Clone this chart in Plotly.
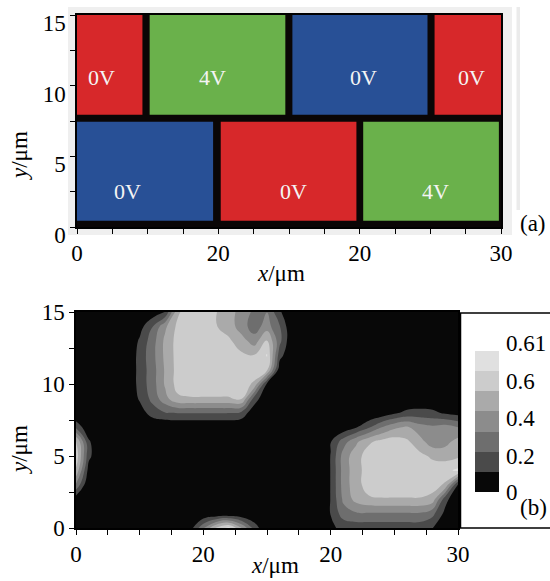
import plotly.graph_objects as go

# ---------------- data ----------------
# panel (a): electrode rectangles (x0, x1, y0, y1 in um) and their voltages
rect_x0 = [0, 5.14, 15.24, 25.3, 0, 10.17, 20.25]
rect_x1 = [4.63, 14.74, 24.8, 30, 9.63, 19.77, 29.85]
rect_y0 = [7.95, 7.95, 7.95, 7.95, 0.45, 0.45, 0.45]
rect_y1 = [15, 15, 15, 15, 7.45, 7.45, 7.45]
rect_kind = ["red", "green", "blue", "red", "blue", "red", "green"]
rect_label = ["0V", "4V", "0V", "0V", "0V", "0V", "4V"]
label_x = [1.7, 9.6, 20.3, 27.9, 3.6, 15.3, 25.4]
label_y = [10.6, 10.6, 10.6, 10.6, 2.5, 2.5, 2.5]

# panel (b): field values on a 1 um grid (rows: y = 0..15, cols: x = 0..30)
grid_x = list(range(31))
grid_y = list(range(16))
z_rows = [
    [0, 0, 0, 0, 0, 0, 0, 0, 0, 0.05, 0.25, 0.45, 0.55, 0.35, 0.14, 0, 0, 0, 0, 0, 0.07, 0.11, 0.12, 0.12, 0.12, 0.12, 0.12, 0.12, 0.09, 0, 0],
    [0, 0, 0, 0, 0, 0, 0, 0, 0, 0, 0, 0, 0, 0, 0, 0, 0, 0, 0, 0, 0.09, 0.22, 0.25, 0.25, 0.25, 0.25, 0.25, 0.25, 0.2, 0.06, 0],
    [0.03, 0, 0, 0, 0, 0, 0, 0, 0, 0, 0, 0, 0, 0, 0, 0, 0, 0, 0, 0, 0.09, 0.28, 0.38, 0.42, 0.43, 0.43, 0.43, 0.43, 0.4, 0.12, 0],
    [0.25, 0, 0, 0, 0, 0, 0, 0, 0, 0, 0, 0, 0, 0, 0, 0, 0, 0, 0, 0, 0.09, 0.3, 0.4, 0.48, 0.48, 0.48, 0.48, 0.48, 0.48, 0.42, 0.08],
    [0.42, 0.05, 0, 0, 0, 0, 0, 0, 0, 0, 0, 0, 0, 0, 0, 0, 0, 0, 0, 0, 0.09, 0.3, 0.4, 0.48, 0.48, 0.48, 0.48, 0.48, 0.48, 0.5, 0.54],
    [0.5, 0.11, 0, 0, 0, 0, 0, 0, 0, 0, 0, 0, 0, 0, 0, 0, 0, 0, 0, 0, 0.09, 0.3, 0.4, 0.48, 0.48, 0.48, 0.48, 0.46, 0.42, 0.4, 0.42],
    [0.45, 0.1, 0, 0, 0, 0, 0, 0, 0, 0, 0, 0, 0, 0, 0, 0, 0, 0, 0, 0, 0.08, 0.22, 0.33, 0.42, 0.46, 0.48, 0.45, 0.38, 0.3, 0.32, 0.38],
    [0.15, 0.02, 0, 0, 0, 0, 0, 0, 0, 0, 0, 0, 0, 0, 0, 0, 0, 0, 0, 0, 0, 0.02, 0.08, 0.16, 0.26, 0.33, 0.36, 0.3, 0.28, 0.3, 0.26],
    [0, 0, 0, 0, 0, 0.04, 0.13, 0.17, 0.18, 0.18, 0.18, 0.18, 0.18, 0.15, 0.02, 0, 0, 0, 0, 0, 0, 0, 0, 0, 0.02, 0.07, 0.11, 0.12, 0.11, 0.07, 0.05],
    [0, 0, 0, 0, 0, 0.1, 0.2, 0.32, 0.42, 0.43, 0.43, 0.43, 0.43, 0.45, 0.14, 0, 0, 0, 0, 0, 0, 0, 0, 0, 0, 0, 0, 0, 0, 0, 0],
    [0, 0, 0, 0, 0, 0.12, 0.22, 0.36, 0.47, 0.48, 0.48, 0.48, 0.48, 0.48, 0.42, 0.07, 0, 0, 0, 0, 0, 0, 0, 0, 0, 0, 0, 0, 0, 0, 0],
    [0, 0, 0, 0, 0, 0.12, 0.22, 0.36, 0.47, 0.48, 0.48, 0.48, 0.48, 0.48, 0.49, 0.46, 0.03, 0, 0, 0, 0, 0, 0, 0, 0, 0, 0, 0, 0, 0, 0],
    [0, 0, 0, 0, 0, 0.12, 0.23, 0.37, 0.47, 0.48, 0.48, 0.48, 0.47, 0.45, 0.44, 0.53, 0.12, 0, 0, 0, 0, 0, 0, 0, 0, 0, 0, 0, 0, 0, 0],
    [0, 0, 0, 0, 0, 0.1, 0.22, 0.37, 0.47, 0.48, 0.48, 0.47, 0.45, 0.39, 0.3, 0.45, 0.2, 0, 0, 0, 0, 0, 0, 0, 0, 0, 0, 0, 0, 0, 0],
    [0, 0, 0, 0, 0, 0.05, 0.17, 0.33, 0.46, 0.48, 0.47, 0.44, 0.4, 0.3, 0.22, 0.3, 0.18, 0, 0, 0, 0, 0, 0, 0, 0, 0, 0, 0, 0, 0, 0],
    [0, 0, 0, 0, 0, 0, 0.03, 0.09, 0.42, 0.5, 0.5, 0.44, 0.38, 0.32, 0.24, 0.26, 0.1, 0, 0, 0, 0, 0, 0, 0, 0, 0, 0, 0, 0, 0, 0],
]
z_max = 0.61
n_bands = 7
cbar_tickvals = [0, 0.156, 0.32, 0.48, 0.644]
cbar_ticktext = ["0", "0.2", "0.4", "0.6", "0.61"]

x_tickvals = [0, 10, 20, 30]
x_ticktext = ["0", "20", "20", "30"]
y_tickvals = [0, 5, 10, 15]

# ---------------- style ----------------
W, H = 550, 581
FONT = "Liberation Serif"
FS = 23
kind_color = {"red": "#d7282a", "green": "#6ab14b", "blue": "#285096"}
gray_steps = ["#080808", "#4a4a4a", "#6e6e6e", "#8c8c8c", "#aaaaaa", "#cccccc", "#e0e0e0"]


def px(xp):
    return xp / W


def py(yp):
    return 1 - yp / H


step = z_max / n_bands
# stepped gray scale: 7 equal bins
colorscale = []
for i, c in enumerate(gray_steps):
    colorscale.append([i / n_bands, c])
    colorscale.append([(i + 1) / n_bands, c])

fig = go.Figure()

# panel (b) contour map
fig.add_trace(go.Contour(
    x=grid_x, y=grid_y, z=z_rows,
    xaxis="x2", yaxis="y2",
    autocontour=False,
    contours=dict(start=step, end=step * (n_bands - 1), size=step,
                  coloring="fill", showlines=False),
    line=dict(width=0, smoothing=1.3),
    colorscale=colorscale,
    showscale=False,
    hoverinfo="skip",
))

# panel (b) colour key: one cell per contour band
band_mid = [(i + 0.5) * step for i in range(n_bands)]
fig.add_trace(go.Heatmap(
    x=[0], y=band_mid, z=[[v] for v in band_mid],
    zmin=0, zmax=z_max, colorscale=colorscale, showscale=False,
    xaxis="x3", yaxis="y3", hoverinfo="skip",
))

shapes = []
# light gray backdrop of panel (a)
shapes.append(dict(type="rect", xref="paper", yref="paper",
                   x0=px(68), x1=px(512), y0=py(235), y1=py(7),
                   fillcolor="#efefef", line=dict(width=0), layer="below"))
shapes.append(dict(type="rect", xref="paper", yref="paper",
                   x0=px(516.5), x1=px(520), y0=py(210), y1=py(7),
                   fillcolor="#ebebeb", line=dict(width=0), layer="below"))
# black plate of panel (a)
shapes.append(dict(type="rect", xref="x", yref="y", x0=0, x1=30, y0=0, y1=15,
                   fillcolor="#0a0606", line=dict(width=0), layer="below"))
for i in range(len(rect_x0)):
    shapes.append(dict(type="rect", xref="x", yref="y",
                       x0=rect_x0[i], x1=rect_x1[i], y0=rect_y0[i], y1=rect_y1[i],
                       fillcolor=kind_color[rect_kind[i]], line=dict(width=0),
                       layer="below"))
# colour-key frame of panel (b)
shapes.append(dict(type="rect", xref="paper", yref="paper",
                   x0=px(460.5), x1=px(570), y0=py(528), y1=py(313),
                   fillcolor="white", line=dict(color="black", width=1.5),
                   layer="below"))

annotations = []
for i in range(len(rect_label)):
    annotations.append(dict(x=label_x[i], y=label_y[i], xref="x", yref="y",
                            xanchor="center", yanchor="middle",
                            text=rect_label[i], showarrow=False,
                            font=dict(family=FONT, size=22, color="#f4f4f4")))

txt = dict(family=FONT, size=FS, color="black")
paper_text = [
    (19, 156, "<i>y</i>/μm", -90),
    (19, 450, "<i>y</i>/μm", -90),
    (281, 274, "<i>x</i>/μm", 0),
    (275, 565, "<i>x</i>/μm", 0),
    (533, 223, "(a)", 0),
    (533, 507, "(b)", 0),
]
for xp_, yp_, t, ang in paper_text:
    annotations.append(dict(x=px(xp_), y=py(yp_), xref="paper", yref="paper",
                            xanchor="center", yanchor="middle", text=t,
                            textangle=ang, showarrow=False, font=txt))

minor = dict(tickmode="linear", tick0=0, dtick=2.5, ticks="outside",
             ticklen=5, tickcolor="black", tickwidth=1, showgrid=False)

common_x = dict(range=[0, 30], tickmode="array", tickvals=x_tickvals,
                ticktext=x_ticktext, ticks="outside", ticklen=5, tickcolor="black",
                showline=True, linecolor="black", linewidth=1.5, mirror=True,
                showgrid=False, zeroline=False, minor=minor, automargin=False,
                tickfont=txt)
common_y = dict(range=[0, 15], tickmode="array", tickvals=y_tickvals,
                ticks="outside", ticklen=5, tickcolor="black",
                showline=True, linecolor="black", linewidth=1.5, mirror=True,
                showgrid=False, zeroline=False, minor=minor, automargin=False,
                tickfont=txt)

fig.update_layout(
    width=W, height=H,
    margin=dict(l=0, r=0, t=0, b=0, autoexpand=False),
    paper_bgcolor="white",
    plot_bgcolor="rgba(0,0,0,0)",
    showlegend=False,
    xaxis=dict(common_x, domain=[px(77), px(501)], anchor="y"),
    yaxis=dict(common_y, domain=[py(227), py(15)], anchor="x", ticklabelshift=8),
    xaxis2=dict(common_x, domain=[px(76), px(458)], anchor="y2"),
    yaxis2=dict(common_y, domain=[py(528), py(312)], anchor="x2"),
    xaxis3=dict(domain=[px(475), px(499)], range=[-0.5, 0.5], anchor="y3",
                visible=False, fixedrange=True, automargin=False),
    yaxis3=dict(domain=[py(492), py(343)], range=[0, z_max * 149 / 141],
                anchor="x3", side="right", showline=False, showgrid=False,
                zeroline=False, ticks="", tickmode="array", automargin=False,
                tickvals=cbar_tickvals, ticktext=cbar_ticktext,
                ticklabelstandoff=6, tickfont=txt, fixedrange=True),
    shapes=shapes,
    annotations=annotations,
)

fig.write_html("out.html")
